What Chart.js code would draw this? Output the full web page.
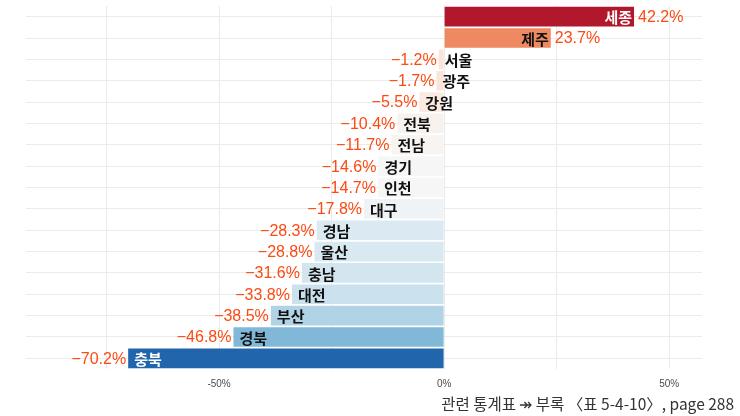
<!DOCTYPE html>
<html lang="ko">
<head>
  <meta charset="UTF-8">
  <title>지역별 변화율</title>
  <script src="https://cdn.jsdelivr.net/npm/chart.js"></script>
  <style>
    * { margin: 0; padding: 0; box-sizing: border-box; }
    body { background: #fff; width: 740px; height: 416px; overflow: hidden; }
    canvas { display: block; }
  </style>
</head>
<body>
  <canvas id="chart" width="740" height="416"></canvas>

  <script>
    const regions = ['세종', '제주', '서울', '광주', '강원', '전북', '전남', '경기', '인천', '대구', '경남', '울산', '충남', '대전', '부산', '경북', '충북'];
    const values = [42.2, 23.7, -1.2, -1.7, -5.5, -10.4, -11.7, -14.6, -14.7, -17.8, -28.3, -28.8, -31.6, -33.8, -38.5, -46.8, -70.2];
    const xTicks = [-75, -50, -25, 0, 25, 50];
    const xLabels = { '-50': '-50%', '0': '0%', '50': '50%' };
    const caption = '관련 통계표 ↠ 부록 〈표 5-4-10〉, page 288';

    // RdBu (7) from low to high, spread over the data range
    const palette = ['#2166ac', '#67a9cf', '#d1e5f0', '#f7f7f7', '#fddbc7', '#ef8a62', '#b2182b'];
    function hex(h) { return [1, 3, 5].map(i => parseInt(h.substr(i, 2), 16)); }
    function fillFor(v) {
      const lo = Math.min(...values), hi = Math.max(...values);
      const t = (v - lo) / (hi - lo) * (palette.length - 1);
      const i = Math.min(Math.floor(t), palette.length - 2);
      const f = t - i;
      const a = hex(palette[i]), b = hex(palette[i + 1]);
      const c = a.map((x, k) => Math.round(x + (b[k] - x) * f));
      return `rgb(${c[0]},${c[1]},${c[2]})`;
    }

    function fmt(v) {
      return (v < 0 ? '\u2212' + Math.abs(v).toFixed(1) : v.toFixed(1)) + '%';
    }

    const barLabels = {
      id: 'barLabels',
      afterDatasetsDraw(chart) {
        const ctx = chart.ctx;
        const x = chart.scales.x;
        const meta = chart.getDatasetMeta(0);
        ctx.save();
        ctx.textBaseline = 'middle';
        meta.data.forEach((bar, i) => {
          const v = values[i];
          const end = x.getPixelForValue(v);
          const y = bar.y + 1;
          const dark = (i === 0 || i === regions.length - 1);
          ctx.font = 'bold 15px "Noto Sans CJK KR"';
          ctx.fillStyle = dark ? '#ffffff' : '#111111';
          if (v >= 0) {
            ctx.textAlign = 'right';
            ctx.fillText(regions[i], end - 2, y);
          } else {
            ctx.textAlign = 'left';
            ctx.fillText(regions[i], end + 6, y);
          }
          ctx.font = '16px "Liberation Sans"';
          ctx.fillStyle = '#fc4a12';
          if (v >= 0) {
            ctx.textAlign = 'left';
            ctx.fillText(fmt(v), end + 4, y);
          } else {
            ctx.textAlign = 'right';
            ctx.fillText(fmt(v), end - 2, y);
          }
        });
        ctx.font = '15.5px "Noto Sans CJK KR"';
        ctx.fillStyle = '#333333';
        ctx.textAlign = 'right';
        ctx.textBaseline = 'alphabetic';
        ctx.fillText(caption, 734, 410);
        ctx.restore();
      }
    };

    new Chart(document.getElementById('chart'), {
      type: 'bar',
      data: {
        labels: regions,
        datasets: [{
          data: values,
          backgroundColor: values.map(fillFor),
          borderWidth: 0,
          barPercentage: 0.92,
          categoryPercentage: 1
        }]
      },
      options: {
        indexAxis: 'y',
        responsive: false,
        animation: false,
        layout: { padding: { left: 26, right: 38, top: 6, bottom: 17 } },
        scales: {
          x: {
            min: -92.9,
            max: 57.3,
            afterBuildTicks(scale) { scale.ticks = xTicks.map(v => ({ value: v })); },
            grid: { color: '#ebebeb', drawTicks: false },
            border: { display: false },
            ticks: {
              padding: 9,
              color: '#4d4d4d',
              font: { size: 10, family: 'Liberation Sans' },
              autoSkip: false,
              maxRotation: 0,
              callback: v => xLabels[String(v)] || ''
            }
          },
          y: {
            grid: { color: '#ebebeb', offset: false, drawTicks: false },
            border: { display: false },
            ticks: { display: false }
          }
        },
        plugins: {
          legend: { display: false },
          tooltip: { enabled: false }
        }
      },
      plugins: [barLabels]
    });
  </script>
</body>
</html>
